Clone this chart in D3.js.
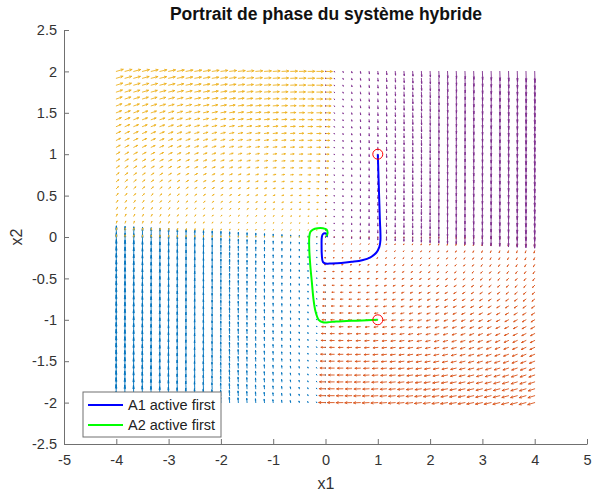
<!DOCTYPE html>
<meta charset="utf-8">
<script src="https://d3js.org/d3.v7.min.js"></script>
<style>
  body { margin: 0; background: #fff; }
  text { font-family: "Liberation Sans", Arial, Helvetica, sans-serif; }
</style>
<div id="chart"></div>
<script>

// system matrices of the two modes
var A1 = [[-0.1, 1], [-10, -0.1]];
var A2 = [[-0.1, 10], [-1, -0.1]];

// quiver fields, one per quadrant (drawing order = Matlab colour order)
var fieldXRange = [[-4, 0], [0, 4], [-4, 0], [0, 4]];
var fieldYRange = [[-2, 0], [-2, 0], [0, 2], [0, 2]];
var fieldMode   = ["A1", "A2", "A2", "A1"];
var fieldColor  = ["#0072BD", "#D95319", "#EDB120", "#7E2F8E"];
var gridN = 25;

// trajectories
var trajA1x = [1.00, 1.01, 1.02, 1.03, 1.04, 1.05, 1.05, 1.03, 0.97, 0.86, 0.70, 0.50, 0.30, 0.12, 0.00, -0.05, -0.07, -0.075, -0.07, -0.05, -0.01, 0.02, 0.03, 0.02];
var trajA1y = [1.00, 0.80, 0.60, 0.40, 0.20, 0.05, -0.04, -0.12, -0.19, -0.245, -0.28, -0.30, -0.315, -0.32, -0.32, -0.30, -0.22, -0.10, 0.00, 0.035, 0.045, 0.035, 0.015, 0.00];
var trajA2x = [1.00, 0.80, 0.60, 0.40, 0.20, 0.05, -0.05, -0.13, -0.19, -0.23, -0.26, -0.29, -0.31, -0.31, -0.29, -0.24, -0.15, -0.05, 0.02, 0.04, 0.03, 0.01];
var trajA2y = [-1.00, -1.005, -1.01, -1.015, -1.02, -1.03, -1.03, -1.00, -0.90, -0.75, -0.55, -0.35, -0.15, 0.00, 0.06, 0.09, 0.105, 0.105, 0.09, 0.055, 0.025, 0.01];
var startX = [1, 1];
var startY = [1, -1];

var legendLabels = ["A1 active first", "A2 active first"];
var legendColors = ["#0000FF", "#00FF00"];

var xTicks = [-5, -4, -3, -2, -1, 0, 1, 2, 3, 4, 5];
var yTicks = [-2.5, -2, -1.5, -1, -0.5, 0, 0.5, 1, 1.5, 2, 2.5];

var W = 593, H = 492;
var svg = d3.select("#chart").append("svg")
    .attr("width", W).attr("height", H);

var x = d3.scaleLinear().domain([-5, 5]).range([64, 587]);
var y = d3.scaleLinear().domain([-2.5, 2.5]).range([444, 30]);

function linspace(a, b, n) {
  var out = [];
  for (var i = 0; i < n; i++) out.push(a + (b - a) * i / (n - 1));
  return out;
}

// quiver, autoscale like matlab (longest arrow ~ one grid cell)
var alpha = 0.3, beta = 0.3, fill = 0.75;
var fieldG = svg.append("g");
fieldXRange.forEach(function(xr, q) {
  var A = fieldMode[q] === "A1" ? A1 : A2;
  var xs = linspace(xr[0], xr[1], gridN);
  var ys = linspace(fieldYRange[q][0], fieldYRange[q][1], gridN);
  var pts = [];
  ys.forEach(function(py) {
    xs.forEach(function(px) {
      pts.push([px, py, A[0][0] * px + A[0][1] * py, A[1][0] * px + A[1][1] * py]);
    });
  });
  var delx = (xr[1] - xr[0]) / gridN, dely = (fieldYRange[q][1] - fieldYRange[q][0]) / gridN;
  var del = delx * delx + dely * dely;
  var maxlen = d3.max(pts, function(p) { return Math.sqrt((p[2] * p[2] + p[3] * p[3]) / del); });
  var s = fill / maxlen;
  var path = d3.path();
  pts.forEach(function(p) {
    var u = p[2] * s, v = p[3] * s, eps = 1e-12;
    path.moveTo(x(p[0]), y(p[1]));
    path.lineTo(x(p[0] + u), y(p[1] + v));
    path.moveTo(x(p[0] + u - alpha * (u + beta * (v + eps))), y(p[1] + v - alpha * (v - beta * (u + eps))));
    path.lineTo(x(p[0] + u), y(p[1] + v));
    path.lineTo(x(p[0] + u - alpha * (u - beta * (v + eps))), y(p[1] + v - alpha * (v + beta * (u + eps))));
  });
  fieldG.append("path")
    .attr("d", path.toString())
    .attr("fill", "none")
    .attr("stroke", fieldColor[q])
    .attr("stroke-width", 1)
    .attr("stroke-linecap", "round")
    .attr("opacity", 0.9);
});

// trajectories
var line = d3.line()
    .x(function(d) { return x(d[0]); })
    .y(function(d) { return y(d[1]); })
    .curve(d3.curveCatmullRom);

svg.append("path")
  .attr("d", line(trajA1x.map(function(v, i) { return [v, trajA1y[i]]; })))
  .attr("fill", "none").attr("stroke", legendColors[0]).attr("stroke-width", 2);
svg.append("path")
  .attr("d", line(trajA2x.map(function(v, i) { return [v, trajA2y[i]]; })))
  .attr("fill", "none").attr("stroke", legendColors[1]).attr("stroke-width", 2);

svg.selectAll("circle.start")
  .data(startX)
  .enter().append("circle")
    .attr("cx", function(d) { return x(d); })
    .attr("cy", function(d, i) { return y(startY[i]); })
    .attr("r", 5)
    .attr("fill", "none")
    .attr("stroke", "#FF0000")
    .attr("stroke-width", 1);

// axes (box off, ticks inside)
var xAxis = svg.append("g")
    .attr("transform", "translate(0,444)")
    .call(d3.axisBottom(x).tickValues(xTicks).tickSizeInner(-5).tickSizeOuter(0)
      .tickPadding(11).tickFormat(function(d) { return String(d); }));
var yAxis = svg.append("g")
    .attr("transform", "translate(64,0)")
    .call(d3.axisLeft(y).tickValues(yTicks).tickSizeInner(-5).tickSizeOuter(0)
      .tickPadding(7).tickFormat(function(d) { return String(d); }));

[xAxis, yAxis].forEach(function(g) {
  g.select(".domain").attr("stroke", "#707070").attr("stroke-width", 1);
  g.selectAll(".tick line").attr("stroke", "#707070");
  g.selectAll(".tick text")
    .attr("fill", "#333")
    .style("font-size", "14.5px")
    .style("font-family", '"Liberation Sans", Arial, sans-serif');
});

// title and labels
svg.append("text")
  .attr("x", 326).attr("y", 20)
  .attr("text-anchor", "middle")
  .style("font-size", "17.5px").style("font-weight", "bold")
  .attr("fill", "#111")
  .text("Portrait de phase du système hybride");

svg.append("text")
  .attr("x", 326).attr("y", 489)
  .attr("text-anchor", "middle")
  .style("font-size", "16px").attr("fill", "#333")
  .text("x1");

svg.append("text")
  .attr("transform", "translate(22,237) rotate(-90)")
  .attr("text-anchor", "middle")
  .style("font-size", "16px").attr("fill", "#333")
  .text("x2");

// legend
var leg = svg.append("g");
leg.append("rect")
  .attr("x", 83).attr("y", 392).attr("width", 138).attr("height", 45)
  .attr("fill", "#fff").attr("stroke", "#707070").attr("stroke-width", 1);
legendLabels.forEach(function(lbl, i) {
  var ly = 405 + i * 20;
  leg.append("line")
    .attr("x1", 88).attr("x2", 123).attr("y1", ly).attr("y2", ly)
    .attr("stroke", legendColors[i]).attr("stroke-width", 2);
  leg.append("text")
    .attr("x", 128).attr("y", ly + 5)
    .style("font-size", "14.5px").attr("fill", "#222")
    .text(lbl);
});
</script>
